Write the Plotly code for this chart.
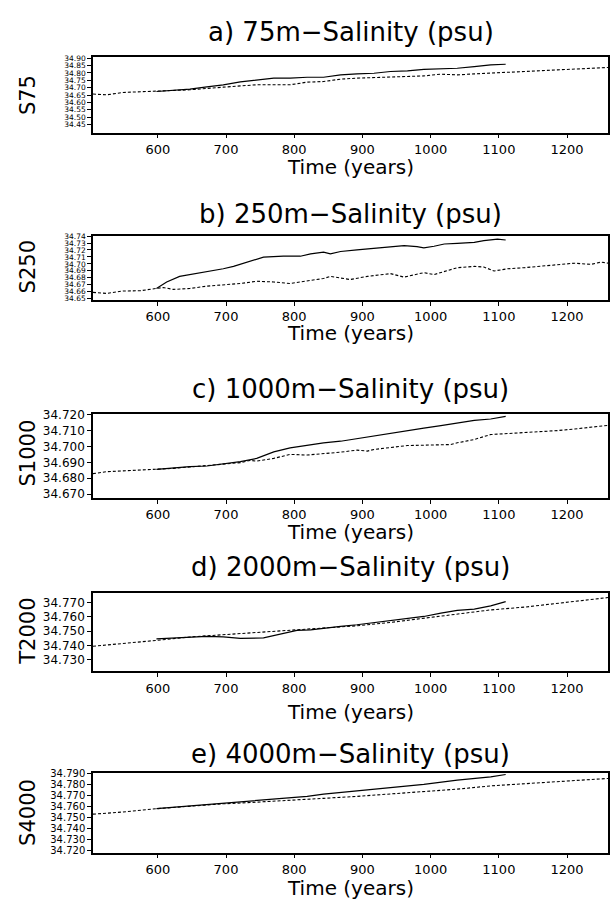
import plotly.graph_objects as go

# ---------------- data ----------------
a_dash_years = [505,525,549,598,647,696,745,794,819,843,868,892,917,941,990,1015,1039,1064,1088,1113,1137,1186,1211,1235,1260]
a_dash_vals = [34.657,34.652,34.668,34.6745,34.686,34.704,34.720,34.720,34.738,34.742,34.758,34.765,34.769,34.771,34.780,34.792,34.787,34.794,34.798,34.803,34.810,34.821,34.825,34.832,34.837]
a_solid_years = [598,647,672,696,721,745,770,794,819,843,868,892,917,941,966,990,1015,1039,1064,1088,1110]
a_solid_vals = [34.6745,34.690,34.706,34.720,34.740,34.753,34.765,34.765,34.771,34.771,34.787,34.794,34.798,34.810,34.814,34.825,34.828,34.832,34.843,34.855,34.859]

b_dash_years = [505,525,549,574,598,608,623,647,672,696,721,745,770,794,819,843,853,868,882,907,931,941,961,990,1005,1020,1039,1064,1078,1093,1113,1137,1162,1186,1211,1235,1250,1260]
b_dash_vals = [34.659,34.6576,34.661,34.6614,34.6647,34.666,34.6633,34.6647,34.668,34.670,34.6718,34.675,34.674,34.6718,34.675,34.679,34.682,34.680,34.6775,34.682,34.685,34.686,34.681,34.6874,34.6846,34.689,34.6945,34.6964,34.6955,34.6898,34.693,34.6945,34.6968,34.6993,34.701,34.6993,34.7026,34.701]
b_solid_years = [598,613,632,647,672,696,711,730,755,784,809,824,843,853,868,892,922,936,951,961,980,990,1005,1020,1039,1064,1078,1088,1098,1110]
b_solid_vals = [34.6647,34.674,34.682,34.6846,34.6884,34.693,34.6964,34.7026,34.7097,34.711,34.711,34.7144,34.7168,34.7144,34.7178,34.720,34.7225,34.724,34.7248,34.7263,34.7248,34.723,34.7253,34.7286,34.7296,34.731,34.7334,34.7343,34.7357,34.7343]

c_dash_years = [505,525,549,598,623,647,696,721,735,745,770,794,819,843,868,892,907,917,941,966,990,1015,1029,1039,1064,1088,1113,1137,1162,1186,1211,1235,1260]
c_dash_vals = [34.6829,34.6841,34.6846,34.6856,34.6862,34.6871,34.6887,34.6898,34.6912,34.6908,34.6925,34.695,34.6946,34.6954,34.6964,34.6977,34.6971,34.6981,34.6991,34.7006,34.7008,34.7012,34.7012,34.7023,34.7044,34.7075,34.7081,34.7085,34.7091,34.710,34.711,34.712,34.7133]
c_solid_years = [598,623,647,672,696,721,745,770,794,819,843,868,892,917,941,966,990,1015,1039,1064,1088,1110]
c_solid_vals = [34.6856,34.6866,34.6873,34.6877,34.6891,34.6904,34.6925,34.6966,34.6991,34.7006,34.7023,34.7033,34.705,34.7069,34.7085,34.710,34.7116,34.7131,34.7148,34.7164,34.7173,34.7189]

d_dash_years = [505,549,598,647,696,745,794,843,892,941,990,1039,1088,1137,1186,1235,1260]
d_dash_vals = [34.7395,34.7413,34.7436,34.746,34.7476,34.7492,34.7503,34.7522,34.7538,34.7561,34.7591,34.7622,34.7649,34.7668,34.7696,34.7719,34.7735]
d_solid_years = [598,647,672,696,721,755,784,804,824,843,868,892,917,941,966,990,1015,1039,1064,1088,1110]
d_solid_vals = [34.7446,34.746,34.7464,34.746,34.745,34.7453,34.7483,34.7506,34.751,34.7522,34.7534,34.7545,34.7561,34.7575,34.7591,34.7603,34.7626,34.7645,34.7654,34.7677,34.7707]

e_dash_years = [505,549,598,647,696,745,794,843,892,941,990,1039,1088,1137,1186,1235,1260]
e_dash_vals = [34.7531,34.7551,34.7581,34.7605,34.7626,34.7641,34.7656,34.7676,34.7694,34.7715,34.7736,34.776,34.779,34.781,34.7828,34.7849,34.7858]
e_solid_years = [598,647,696,745,794,819,843,892,941,990,1039,1088,1110]
e_solid_vals = [34.7581,34.7605,34.7632,34.7656,34.7676,34.7694,34.7715,34.7745,34.7775,34.7804,34.7843,34.7873,34.7894]

titles = ["a) 75m\u2212Salinity (psu)", "b) 250m\u2212Salinity (psu)", "c) 1000m\u2212Salinity (psu)",
          "d) 2000m\u2212Salinity (psu)", "e) 4000m\u2212Salinity (psu)"]
ylabels = ["S75", "S250", "S1000", "T2000", "S4000"]
x_tickvals = [600, 700, 800, 900, 1000, 1100, 1200]
a_yticks = [34.45,34.50,34.55,34.60,34.65,34.70,34.75,34.80,34.85,34.90]
b_yticks = [34.65,34.66,34.67,34.68,34.69,34.70,34.71,34.72,34.73,34.74]
c_yticks = [34.670,34.680,34.690,34.700,34.710,34.720]
d_yticks = [34.730,34.740,34.750,34.760,34.770]
e_yticks = [34.720,34.730,34.740,34.750,34.760,34.770,34.780,34.790]

# ---------------- layout ----------------
W, H = 614, 907
X0, X1 = 93, 608
panels = [
    dict(dash=(a_dash_years, a_dash_vals), solid=(a_solid_years, a_solid_vals), top=52, bot=128,
         yr=[34.395, 34.905], yt=a_yticks, fmt=".2f", fs=7.5, ttl=26, xl=163, yl=90),
    dict(dash=(b_dash_years, b_dash_vals), solid=(b_solid_years, b_solid_vals), top=232, bot=297,
         yr=[34.648, 34.7405], yt=b_yticks, fmt=".2f", fs=7.5, ttl=210, xl=330, yl=264),
    dict(dash=(c_dash_years, c_dash_vals), solid=(c_solid_years, c_solid_vals), top=412, bot=497,
         yr=[34.6675, 34.7205], yt=c_yticks, fmt=".3f", fs=12, ttl=387, xl=531, yl=452),
    dict(dash=(d_dash_years, d_dash_vals), solid=(d_solid_years, d_solid_vals), top=593, bot=672,
         yr=[34.722, 34.7766], yt=d_yticks, fmt=".3f", fs=12, ttl=567, xl=713, yl=632),
    dict(dash=(e_dash_years, e_dash_vals), solid=(e_solid_years, e_solid_vals), top=775, bot=855,
         yr=[34.718, 34.7905], yt=e_yticks, fmt=".3f", fs=10, ttl=756, xl=891, yl=815),
]

fig = go.Figure()
FONT = "DejaVu Sans"
ann = []
for i, p in enumerate(panels):
    n = "" if i == 0 else str(i + 1)
    xa, ya = "x" + n, "y" + n
    fig.add_trace(go.Scatter(x=p["dash"][0], y=p["dash"][1], mode="lines", xaxis=xa, yaxis=ya,
                             line=dict(color="black", width=1.1, dash="3px,2px"), showlegend=False))
    fig.add_trace(go.Scatter(x=p["solid"][0], y=p["solid"][1], mode="lines", xaxis=xa, yaxis=ya,
                             line=dict(color="black", width=1.2), showlegend=False))
    dom_y = [(H - p["bot"]) / H, (H - p["top"]) / H]
    fig.layout["xaxis" + n] = dict(domain=[X0 / W, X1 / W], range=[505, 1260], anchor=ya,
                                   tickvals=x_tickvals, ticks="outside", ticklen=4, tickcolor="black",
                                   showline=True, linecolor="black", linewidth=1.5, mirror=True,
                                   showgrid=False, zeroline=False,
                                   tickfont=dict(family=FONT, size=13, color="black"))
    fig.layout["yaxis" + n] = dict(domain=dom_y, range=p["yr"], anchor=xa,
                                   tickvals=p["yt"], tickformat=p["fmt"], ticks="outside", ticklen=4,
                                   tickcolor="black", showline=True, linecolor="black", linewidth=1.5,
                                   mirror=True, showgrid=False, zeroline=False,
                                   tickfont=dict(family=FONT, size=p["fs"], color="black"))
    ann.append(dict(text=titles[i], x=(X0 + X1) / 2 / W, y=1 - p["ttl"] / H, xref="paper", yref="paper",
                    showarrow=False, xanchor="center", yanchor="middle",
                    font=dict(family=FONT, size=26, color="black")))
    ann.append(dict(text="Time (years)", x=(X0 + X1) / 2 / W, y=1 - p["xl"] / H, xref="paper", yref="paper",
                    showarrow=False, xanchor="center", yanchor="middle",
                    font=dict(family=FONT, size=20, color="black")))
    ann.append(dict(text=ylabels[i], x=28 / W, y=1 - p["yl"] / H, xref="paper", yref="paper",
                    showarrow=False, xanchor="center", yanchor="middle", textangle=-90,
                    font=dict(family=FONT, size=21, color="black")))

fig.update_layout(width=W, height=H, margin=dict(l=0, r=0, t=0, b=0), paper_bgcolor="white",
                  plot_bgcolor="white", annotations=ann)
fig.write_html("out.html")
